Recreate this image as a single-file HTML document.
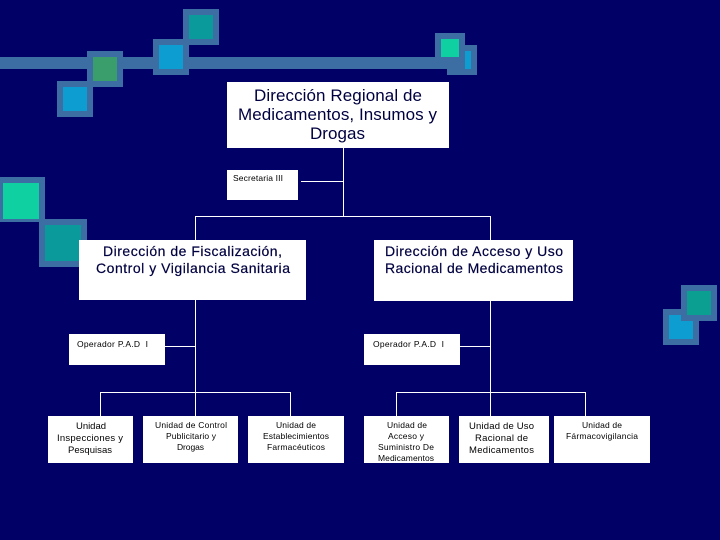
<!DOCTYPE html>
<html>
<head>
<meta charset="utf-8">
<style>
html,body{margin:0;padding:0;background:#000066;}
svg{display:block;}
text{font-family:"Liberation Sans",sans-serif;fill:#000;}
.a{font-size:17px;fill:#000040;}
.b{font-size:14px;fill:#000040;stroke:#000040;stroke-width:.2px;}
.c{font-size:8.5px;}
.d{font-size:9.5px;}
</style>
</head>
<body>
<svg width="720" height="540" viewBox="0 0 720 540" xmlns="http://www.w3.org/2000/svg">
<rect width="720" height="540" fill="#000066"/>
<g shape-rendering="crispEdges">
<!-- bar -->
<rect x="0" y="57" width="447" height="12" fill="#3c6ea3"/>
<!-- squares -->
<rect x="183" y="9" width="36" height="36" fill="#3c6ea3"/><rect x="189" y="15" width="24" height="24" fill="#0a9a9c"/>
<rect x="153" y="39" width="36" height="36" fill="#3c6ea3"/><rect x="159" y="45" width="24" height="24" fill="#0d9dd0"/>
<rect x="87" y="51" width="36" height="36" fill="#3c6ea3"/><rect x="93" y="57" width="24" height="24" fill="#3a9e6c"/>
<rect x="57" y="81" width="36" height="36" fill="#3c6ea3"/><rect x="63" y="87" width="24" height="24" fill="#0d9dd0"/>
<rect x="447" y="45" width="30" height="30" fill="#3c6ea3"/><rect x="465" y="51" width="6" height="18" fill="#0d9dd0"/>
<rect x="435" y="33" width="30" height="36" fill="#3c6ea3"/><rect x="441" y="39" width="18" height="18" fill="#0fd0a0"/>
<rect x="39" y="219" width="48" height="48" fill="#3c6ea3"/><rect x="45" y="225" width="36" height="36" fill="#0a9a9c"/>
<rect x="0" y="177" width="45" height="45" fill="#3c6ea3"/><rect x="3" y="183" width="36" height="36" fill="#0fd0a0"/>
<rect x="663" y="309" width="36" height="36" fill="#3c6ea3"/><rect x="669" y="315" width="24" height="24" fill="#0d9dd0"/>
<rect x="681" y="285" width="36" height="36" fill="#3c6ea3"/><rect x="687" y="291" width="24" height="24" fill="#0a9f90"/>
<!-- connectors -->
<g fill="#fff">
<rect x="343" y="148" width="1" height="69"/>
<rect x="301" y="181" width="42" height="1"/>
<rect x="195" y="216" width="296" height="1"/>
<rect x="195" y="216" width="1" height="24"/>
<rect x="490" y="216" width="1" height="24"/>
<rect x="195" y="300" width="1" height="116"/>
<rect x="490" y="301" width="1" height="115"/>
<rect x="165" y="346" width="30" height="1"/>
<rect x="460" y="346" width="30" height="1"/>
<rect x="100" y="392" width="191" height="1"/>
<rect x="100" y="392" width="1" height="24"/>
<rect x="290" y="392" width="1" height="24"/>
<rect x="396" y="392" width="190" height="1"/>
<rect x="396" y="392" width="1" height="24"/>
<rect x="585" y="392" width="1" height="24"/>
<!-- boxes -->
<rect x="227" y="82" width="222" height="66"/>
<rect x="227" y="170" width="71" height="30"/>
<rect x="79" y="240" width="227" height="60"/>
<rect x="374" y="240" width="199" height="61"/>
<rect x="69" y="334" width="96" height="31"/>
<rect x="364" y="334" width="96" height="31"/>
<rect x="48" y="416" width="85" height="47"/>
<rect x="143" y="416" width="95" height="47"/>
<rect x="248" y="416" width="96" height="47"/>
<rect x="364" y="416" width="85" height="47"/>
<rect x="459" y="416" width="90" height="47"/>
<rect x="554" y="416" width="96" height="47"/>
</g>
</g>
<!-- text -->
<text class="a" x="254" y="101" textLength="168">Dirección Regional de</text>
<text class="a" x="238" y="120" textLength="199">Medicamentos, Insumos y</text>
<text class="a" x="310" y="139" textLength="55">Drogas</text>
<text class="c" x="233" y="181" textLength="50">Secretaria III</text>
<text class="b" x="103" y="256" textLength="179">Dirección de Fiscalización,</text>
<text class="b" x="96" y="273" textLength="194">Control y Vigilancia Sanitaria</text>
<text class="b" x="385" y="256" textLength="178">Dirección de Acceso y Uso</text>
<text class="b" x="385" y="273" textLength="178">Racional de Medicamentos</text>
<text class="c" x="77" y="347" textLength="71">Operador P.A.D&#160;&#160;I</text>
<text class="c" x="373" y="347" textLength="71">Operador P.A.D&#160;&#160;I</text>
<text class="d" x="76" y="429" textLength="30">Unidad</text>
<text class="d" x="57" y="441" textLength="66">Inspecciones y</text>
<text class="d" x="68" y="453" textLength="44">Pesquisas</text>
<text class="c" x="155" y="428" textLength="72">Unidad de Control</text>
<text class="c" x="166" y="439" textLength="50">Publicitario y</text>
<text class="c" x="177" y="450" textLength="27">Drogas</text>
<text class="c" x="276" y="428" textLength="40">Unidad de</text>
<text class="c" x="263" y="439" textLength="66">Establecimientos</text>
<text class="c" x="267" y="450" textLength="58">Farmacéuticos</text>
<text class="c" x="387" y="428" textLength="40">Unidad de</text>
<text class="c" x="388" y="439" textLength="36">Acceso y</text>
<text class="c" x="378" y="450" textLength="56">Suministro De</text>
<text class="c" x="378" y="461" textLength="56">Medicamentos</text>
<text class="d" x="469" y="429" textLength="65">Unidad de Uso</text>
<text class="d" x="475" y="441" textLength="53">Racional de</text>
<text class="d" x="469" y="453" textLength="65">Medicamentos</text>
<text class="c" x="582" y="428" textLength="40">Unidad de</text>
<text class="c" x="566" y="439" textLength="72">Fármacovigilancia</text>
</svg>
</body>
</html>
